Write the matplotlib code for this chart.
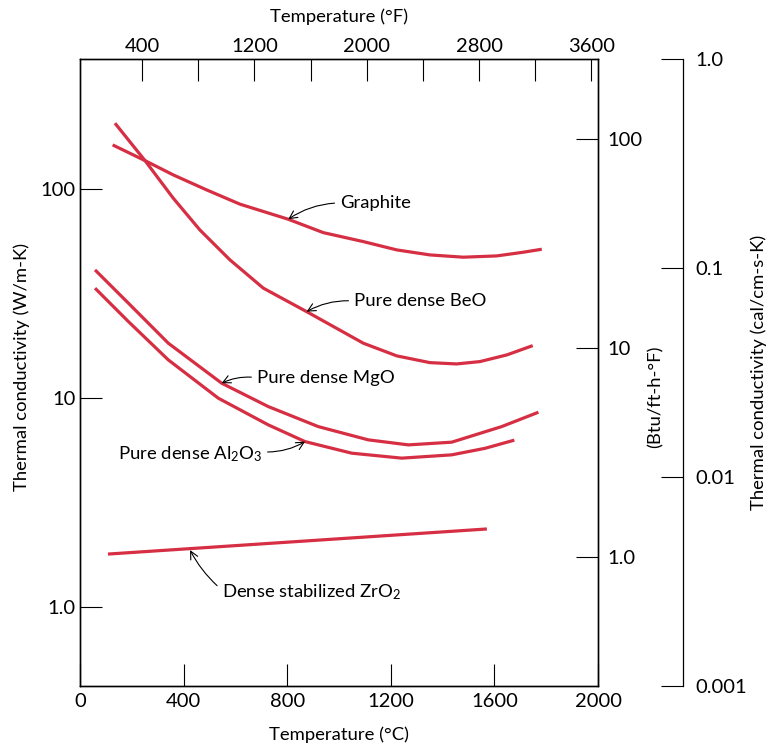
import numpy as np
import matplotlib.pyplot as plt

plt.rcParams['font.family'] = ['Lato', 'DejaVu Sans']
plt.rcParams['mathtext.fontset'] = 'custom'
plt.rcParams['mathtext.rm'] = 'Lato'
plt.rcParams['mathtext.it'] = 'Lato'

# temperatures in degC, conductivities in W/m-K
graphite_t = [126, 251, 360, 489, 618, 804, 939, 1094, 1223, 1351, 1480, 1609, 1712, 1783]
graphite_k = [162.4, 136.6, 116.7, 98.9, 84.5, 71.6, 61.8, 55.96, 51.07, 48.33,
              47.13, 47.80, 49.79, 51.45]

beo_t = [135, 251, 360, 463, 579, 708, 875, 1094, 1223, 1351, 1454, 1544, 1648, 1748]
beo_k = [206.3, 136.6, 90.3, 63.6, 45.75, 33.5, 25.87, 18.27, 15.89, 14.75,
         14.54, 14.92, 16.06, 17.79]

mgo_t = [58, 187, 341, 547, 727, 920, 1113, 1268, 1435, 1628, 1770]
mgo_k = [40.97, 28.39, 18.27, 11.76, 9.09, 7.29, 6.30, 5.96, 6.14, 7.29, 8.54]

al2o3_t = [58, 187, 341, 534, 727, 869, 1049, 1242, 1435, 1564, 1677]
al2o3_k = [33.5, 23.18, 15.20, 9.97, 7.43, 6.18, 5.44, 5.15, 5.34, 5.74, 6.28]

zro2_t = [108, 1571]
zro2_k = [1.79, 2.36]

c_ticks = [0, 400, 800, 1200, 1600, 2000]
f_ticks = [400, 800, 1200, 1600, 2000, 2400, 2800, 3200, 3600]
f_labels = ['400', '', '1200', '', '2000', '', '2800', '', '3600']
w_ticks = [1, 10, 100]
w_labels = ['1.0', '10', '100']
btu_ticks = [1, 10, 100]
btu_labels = ['1.0', '10', '100']
cal_ticks = [0.001, 0.01, 0.1, 1.0]
cal_labels = ['0.001', '0.01', '0.1', '1.0']

W, H = 769, 746
red = '#d62f44'
fs = 13.3     # label / annotation text
tfs = 14.5    # tick labels
tl = 16

fig = plt.figure(figsize=(W / 100, H / 100), dpi=100)
ax = fig.add_axes([80 / W, 1 - 686 / H, 518 / W, 627 / H])

for t, k in [(graphite_t, graphite_k), (beo_t, beo_k), (mgo_t, mgo_k),
             (al2o3_t, al2o3_k), (zro2_t, zro2_k)]:
    ax.plot(t, k, color=red, lw=2.3, solid_capstyle='butt', solid_joinstyle='round')

ax.set_yscale('log')
ax.set_xlim(0, 2000)
ax.set_ylim(0.4184, 418.4)
ax.set_xticks(c_ticks)
ax.set_xticklabels([str(c) for c in c_ticks])
ax.set_yticks(w_ticks)
ax.set_yticklabels(w_labels)
ax.minorticks_off()
ax.tick_params(direction='in', length=tl, width=0.8, labelsize=tfs,
               top=False, right=False)
ax.tick_params(axis='x', pad=5)
ax.tick_params(axis='y', pad=3)

# Fahrenheit axis on top
axf = ax.twiny()
axf.set_xlim(-42.3, 3647)
axf.set_xticks(f_ticks)
axf.set_xticklabels(f_labels)
axf.tick_params(direction='in', length=tl, width=0.8, labelsize=tfs, pad=3)

# Btu axis on the right spine
axb = ax.twinx()
axb.set_yscale('log')
axb.set_ylim(0.4184 * 0.5778, 418.4 * 0.5778)
axb.set_yticks(btu_ticks)
axb.set_yticklabels(btu_labels)
axb.minorticks_off()
axb.tick_params(direction='in', length=tl, width=0.8, labelsize=tfs, pad=7)

# cal axis, detached
axc = ax.twinx()
axc.set_yscale('log')
axc.set_ylim(0.001, 1.0)
axc.spines['right'].set_position(('axes', (683 - 80) / 518))
for s in ['top', 'bottom', 'left']:
    axc.spines[s].set_visible(False)
axc.set_yticks(cal_ticks)
axc.set_yticklabels(cal_labels)
axc.minorticks_off()
axc.tick_params(direction='in', length=tl, width=0.8, labelsize=tfs, pad=9)

for a in [ax, axf, axb, axc]:
    for s in a.spines.values():
        s.set_linewidth(0.9)

def ftext(x, y, s, **kw):
    fig.text(x / W, 1 - y / H, s, fontsize=fs, **kw)

ftext(339, 17, 'Temperature (°F)', ha='center', va='center')
ftext(339, 735, 'Temperature (°C)', ha='center', va='center')
ftext(22, 367, 'Thermal conductivity (W/m-K)', ha='center', va='center', rotation=90)
ftext(655, 397, '(Btu/ft-h-°F)', ha='center', va='center', rotation=90)
ftext(759, 372, 'Thermal conductivity (cal/cm-s-K)', ha='center', va='center', rotation=90)

arrow = dict(arrowstyle='->', color='black', lw=0.8, shrinkA=2, shrinkB=0,
             mutation_scale=14)

ax.annotate('Graphite', xy=(804, 71.6), xytext=(1004, 85.7), fontsize=fs,
            ha='left', va='center',
            arrowprops=dict(arrow, connectionstyle='arc3,rad=0.15', relpos=(0, 0.5)))
ax.annotate('Pure dense BeO', xy=(875, 25.87), xytext=(1058, 29.1), fontsize=fs,
            ha='left', va='center',
            arrowprops=dict(arrow, connectionstyle='arc3,rad=0.15', relpos=(0, 0.5)))
ax.annotate('Pure dense MgO', xy=(547, 11.76), xytext=(683, 12.5), fontsize=fs,
            ha='left', va='center',
            arrowprops=dict(arrow, connectionstyle='arc3,rad=0.15', relpos=(0, 0.5)))
ax.annotate('Pure dense Al$_2$O$_3$', xy=(869, 6.18), xytext=(703, 5.4), fontsize=fs,
            ha='right', va='center',
            arrowprops=dict(arrow, connectionstyle='arc3,rad=0.15', relpos=(1, 0.6)))
ax.annotate('Dense stabilized ZrO$_2$', xy=(425, 1.87), xytext=(548, 1.18), fontsize=fs,
            ha='left', va='center',
            arrowprops=dict(arrow, connectionstyle='arc3,rad=-0.1', relpos=(0, 0.6)))

fig.savefig('out.png', dpi=100)
